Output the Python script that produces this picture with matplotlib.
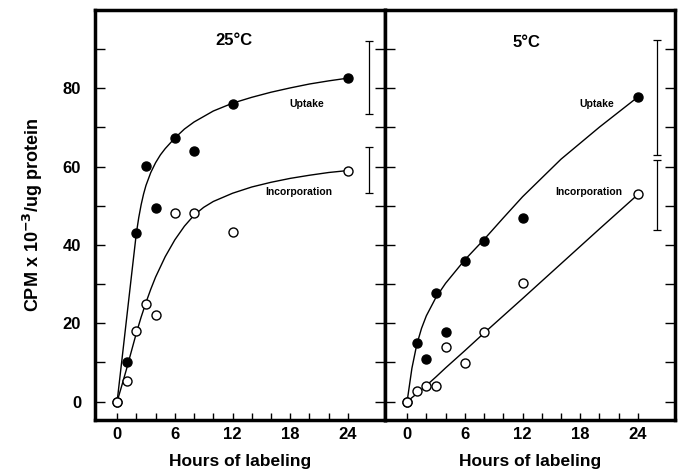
import numpy as np
import matplotlib
matplotlib.use('Agg')
import matplotlib.pyplot as plt

# fuente parecida a Helvetica negrita
plt.rcParams['font.family'] = ['Liberation Sans', 'DejaVu Sans']
plt.rcParams['font.weight'] = 'bold'

# horas de marcado
horas = [0, 1, 2, 3, 4, 6, 8, 12, 24]

# 25 C
uptake_25 = [0, 10.1, 43, 60.2, 49.4, 67.3, 64, 75.9, 82.6]
incorp_25 = [0, 5.3, 18, 24.8, 22, 48.2, 48.2, 43.2, 59]
# 5 C
uptake_5 = [0, 14.9, 10.9, 27.8, 17.7, 35.9, 41.1, 47, 77.8]
incorp_5 = [0, 2.7, 4.1, 4, 13.9, 9.9, 17.7, 30.2, 52.9]

# curvas dibujadas a mano (punto a punto)
curva_up25_x = [0, 0.5, 1, 1.5, 2, 2.25, 2.5, 2.75, 3, 3.5, 4, 4.5, 5, 6, 7, 8,
                10, 12, 14, 16, 18, 20, 22, 24]
curva_up25_y = [0, 10.7, 21.5, 32.3, 43, 47, 50.3, 53, 55.2, 58.5, 61, 63, 64.6,
                67.3, 69.6, 71.4, 74.2, 76.2, 77.7, 79, 80.1, 81.1, 81.9, 82.6]
curva_in25_x = [0, 0.5, 1, 1.5, 2, 2.5, 3, 3.5, 4, 5, 6, 7, 8, 9, 10, 12, 14,
                16, 18, 20, 22, 24]
curva_in25_y = [0, 4.2, 8.5, 13, 17.5, 21.6, 25.3, 28.7, 31.8, 37, 41.3, 44.8,
                47.6, 49.6, 51.1, 53.2, 54.8, 56, 57, 57.8, 58.5, 59]
curva_up5_x = [0, 0.5, 1, 1.5, 2, 3, 4, 6, 8, 10, 12, 16, 20, 24]
curva_up5_y = [0, 8.5, 14.5, 18.7, 21.9, 26.6, 30.2, 36.2, 41.4, 46.9, 52.3,
               61.9, 70.1, 77.8]
curva_in5_x = [0, 1, 2, 3, 4, 6, 8, 12, 16, 20, 24]
curva_in5_y = [0, 2, 4.1, 6.3, 8.6, 13, 17.5, 26.3, 35.2, 44.1, 52.9]

# barras de error (x, centro, semiamplitud)
barras_25 = [(26.2, 82.75, 9.25), (26.2, 59.2, 5.9)]
barras_5 = [(26.0, 77.65, 14.75), (26.0, 52.8, 9.0)]

fig = plt.figure(figsize=(6.81, 4.71), dpi=100)
ax1 = fig.add_axes([0.1395, 0.1083, 0.4258, 0.8705])
ax2 = fig.add_axes([0.5653, 0.1083, 0.4259, 0.8705])

paneles = [
    (ax1, '25°C', uptake_25, incorp_25, curva_up25_x, curva_up25_y,
     curva_in25_x, curva_in25_y, barras_25, 12.1, 92.1),
    (ax2, '5°C', uptake_5, incorp_5, curva_up5_x, curva_up5_y,
     curva_in5_x, curva_in5_y, barras_5, 12.4, 91.8),
]

for ax, titulo, up, inc, cux, cuy, cix, ciy, barras, tx, ty in paneles:
    ax.plot(cux, cuy, color='black', lw=1.0, zorder=2)
    ax.plot(cix, ciy, color='black', lw=1.0, zorder=2)
    ax.plot(horas, up, 'o', color='black', ms=6.5, zorder=3)
    ax.plot(horas, inc, 'o', mfc='white', mec='black', mew=1.0, ms=6.5, zorder=4)
    for bx, bc, be in barras:
        ax.errorbar(bx, bc, yerr=be, fmt='none', ecolor='black',
                    elinewidth=0.9, capsize=3, capthick=0.9)
    ax.text(tx, ty, titulo, fontsize=12, fontweight='bold', ha='center', va='center')
    ax.text(19.7, 76.1, 'Uptake', fontsize=7.5, fontweight='bold', ha='center', va='center')
    ax.text(18.9, 53.4, 'Incorporation', fontsize=7.5, fontweight='bold', ha='center', va='center')

    ax.set_xlim(-2.3, 27.85)
    ax.set_ylim(-4.7, 100)
    ax.set_xticks([0, 6, 12, 18, 24])
    ax.set_xticks(np.arange(0, 25, 2), minor=True)
    ax.set_yticks(np.arange(0, 100, 10), minor=True)
    ax.set_yticks([0, 20, 40, 60, 80])
    ax.tick_params(which='both', direction='in', top=False, right=True,
                   labelsize=12, width=1.0)
    ax.tick_params(axis='y', which='both', length=7)
    ax.tick_params(axis='x', which='both', length=5)
    ax.tick_params(axis='x', which='major', pad=5)
    ax.tick_params(axis='y', pad=10)
    for s in ax.spines.values():
        s.set_linewidth(2.5)
    ax.set_xlabel('Hours of labeling', fontsize=12.5, fontweight='bold', labelpad=9)
    for lab in ax.get_xticklabels() + ax.get_yticklabels():
        lab.set_fontweight('bold')

ax2.tick_params(axis='y', labelleft=False)
ax1.set_ylabel('CPM x 10$^{\\mathbf{-3}}$/ug protein', fontsize=13,
               fontweight='bold', labelpad=13)

fig.savefig('out.png', dpi=100)
